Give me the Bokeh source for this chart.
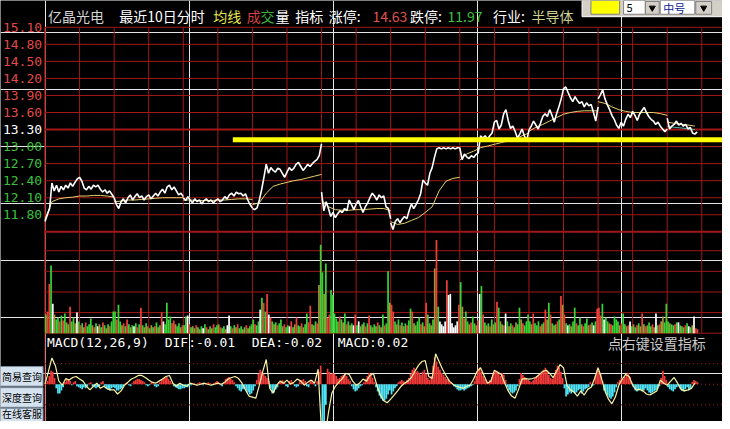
from bokeh.plotting import figure
from bokeh.models import Range1d
from bokeh.core.properties import value
from bokeh.embed import file_html
from bokeh.resources import INLINE

# ------------------------------------------------------------------ data
stock_name = "亿晶光电"
industry = "半导体"
prev_close = 13.30
limit_up = 14.63
limit_down = 11.97
price_ticks = [15.10, 14.80, 14.50, 14.20, 13.90, 13.60, 13.30, 13.00, 12.70, 12.40, 12.10, 11.80]
price_floor = 11.50
vol_ticks = [21, 42, 63, 84]
macd_ticks = [40, 0, -40]          # x0.001
support_level = 13.12              # hand-drawn yellow line
support_start = 652                # minute index where it starts
macd_labels = ["MACD(12,26,9)", "DIF:-0.01", "DEA:-0.02", "MACD:0.02"]

DAY_MIN = 240
PRICE_STEP = 8
AVG_STEP = 24
VOL_STEP = 6
DIF_STEP = 12

price_d0 = [11.68, 11.80, 11.91, 12.36, 12.22, 12.32, 12.20, 12.30, 12.24, 12.32, 12.27, 12.36, 12.30, 12.37, 12.43, 12.46,
            12.39, 12.27, 12.24, 12.30, 12.25, 12.32, 12.29, 12.32, 12.25, 12.20, 12.24, 12.18, 12.22, 12.16, 12.10]
price_d1 = [12.10, 11.98, 11.91, 12.03, 12.08, 12.01, 12.10, 12.15, 12.06, 12.12, 12.17, 12.10, 12.13, 12.06, 12.12, 12.15,
            12.08, 12.13, 12.18, 12.13, 12.20, 12.25, 12.18, 12.29, 12.32, 12.24, 12.29, 12.22, 12.15, 12.18, 12.12]
price_d2 = [12.10, 12.05, 12.12, 12.06, 12.01, 12.08, 12.03, 12.06, 11.99, 12.05, 12.08, 12.03, 12.06, 12.01, 12.05, 12.08,
            12.03, 12.06, 12.12, 12.08, 12.15, 12.18, 12.13, 12.20, 12.17, 12.18, 12.13, 12.17, 12.06, 11.98, 11.92]
price_d3 = [11.91, 11.89, 11.92, 12.06, 12.24, 12.46, 12.69, 12.53, 12.63, 12.58, 12.55, 12.62, 12.60, 12.53, 12.46, 12.55,
            12.63, 12.58, 12.62, 12.69, 12.72, 12.65, 12.58, 12.63, 12.69, 12.65, 12.70, 12.74, 12.77, 12.84, 13.05]
price_d4 = [12.20, 11.87, 12.03, 11.91, 11.77, 11.84, 11.75, 11.82, 11.87, 11.84, 11.91, 11.87, 12.06, 11.98, 11.89, 11.99,
            12.05, 11.94, 11.84, 11.94, 12.01, 12.10, 12.18, 12.13, 12.06, 12.15, 12.10, 12.13, 11.94, 11.91, 11.73]
price_d5 = [11.66, 11.54, 11.68, 11.73, 11.66, 11.72, 11.77, 11.73, 11.87, 11.99, 11.91, 11.98, 12.06, 12.17, 12.41, 12.36,
            12.32, 12.53, 12.63, 12.81, 12.96, 12.98, 12.96, 12.98, 12.96, 12.98, 12.96, 12.98, 12.96, 12.98, 12.98]
price_d6 = [12.98, 12.77, 12.87, 12.82, 12.79, 12.84, 12.81, 12.86, 12.89, 13.19, 13.15, 13.19, 13.13, 13.19, 13.24, 13.43,
            13.46, 13.31, 13.38, 13.57, 13.65, 13.46, 13.32, 13.36, 13.27, 13.15, 13.22, 13.31, 13.19, 13.10, 13.29]
price_d7 = [13.29, 13.36, 13.45, 13.38, 13.31, 13.41, 13.53, 13.58, 13.53, 13.65, 13.55, 13.43, 13.58, 13.70, 13.84, 14.02,
            14.05, 13.95, 13.86, 13.79, 13.88, 13.81, 13.76, 13.79, 13.70, 13.77, 13.72, 13.74, 13.60, 13.45, 13.70]
price_d8 = [13.84, 13.91, 14.00, 13.84, 13.74, 13.65, 13.55, 13.48, 13.38, 13.32, 13.43, 13.36, 13.48, 13.57, 13.51, 13.62,
            13.55, 13.46, 13.57, 13.63, 13.69, 13.60, 13.53, 13.48, 13.45, 13.39, 13.43, 13.36, 13.31, 13.26, 13.31]
price_d9 = [13.50, 13.31, 13.36, 13.39, 13.45, 13.38, 13.41, 13.36, 13.39, 13.31, 13.34, 13.24, 13.22, 13.26]
price_days = [price_d0, price_d1, price_d2, price_d3, price_d4, price_d5, price_d6, price_d7, price_d8, price_d9]

avg_d0 = [11.72, 12.03, 12.08, 12.10, 12.11, 12.13, 12.13, 12.14, 12.14, 12.13, 12.11]
avg_d1 = [12.03, 12.04, 12.06, 12.06, 12.07, 12.08, 12.09, 12.10, 12.10, 12.10, 12.10]
avg_d2 = [12.06, 12.06, 12.05, 12.05, 12.05, 12.06, 12.06, 12.07, 12.08, 12.08, 12.07]
avg_d3 = [11.98, 12.01, 12.18, 12.30, 12.34, 12.37, 12.40, 12.42, 12.45, 12.48, 12.51]
avg_d4 = [12.06, 11.94, 11.89, 11.88, 11.88, 11.89, 11.89, 11.90, 11.91, 11.91, 11.87]
avg_d5 = [11.68, 11.63, 11.65, 11.70, 11.75, 11.84, 11.94, 12.22, 12.39, 12.44, 12.46]
avg_d6 = [12.76, 12.87, 12.92, 12.98, 13.01, 13.04, 13.07, 13.10, 13.13, 13.19, 13.24]
avg_d7 = [13.27, 13.34, 13.39, 13.45, 13.51, 13.57, 13.60, 13.62, 13.63, 13.63, 13.63]
avg_d8 = [13.79, 13.76, 13.70, 13.65, 13.62, 13.60, 13.60, 13.60, 13.60, 13.58, 13.55]
avg_d9 = [13.43, 13.41, 13.39, 13.38, 13.36]
avg_days = [avg_d0, avg_d1, avg_d2, avg_d3, avg_d4, avg_d5, avg_d6, avg_d7, avg_d8, avg_d9]
ma_d9 = [13.36, 13.34, 13.33, 13.31, 13.30]

vol_d0 = [19, 22, 50, 69, 30, 19, 14, 16, 12, 18, 13, 20, 11, 9, 27, 12, 16, 10, 21, 12,
          8, 10, 6, 11, 7, 9, 15, 8, 6, 10, 7, 9, 6, 11, 8, 5, 9, 7, 12, 22]
vol_d1 = [22, 14, 29, 12, 8, 10, 7, 14, 9, 6, 8, 7, 10, 6, 9, 26, 8, 6, 10, 7,
          5, 8, 6, 7, 11, 6, 8, 21, 12, 9, 31, 14, 17, 10, 13, 9, 7, 10, 6, 8]
vol_d2 = [8, 17, 18, 9, 6, 7, 5, 8, 6, 4, 7, 5, 9, 6, 4, 7, 5, 9, 6, 8,
          9, 6, 5, 7, 4, 8, 18, 7, 5, 8, 6, 9, 5, 7, 4, 6, 8, 5, 7, 9]
vol_d3 = [14, 9, 8, 12, 24, 36, 31, 22, 40, 19, 16, 12, 9, 11, 8, 10, 14, 7, 9, 6,
          8, 7, 12, 6, 9, 16, 8, 7, 10, 6, 9, 20, 11, 28, 9, 8, 12, 10, 49, 90]
vol_d4 = [62, 40, 71, 16, 19, 44, 39, 20, 15, 12, 17, 14, 11, 20, 9, 12, 8, 10, 8, 19,
          8, 12, 7, 9, 11, 7, 10, 18, 8, 6, 9, 7, 11, 8, 6, 19, 8, 10, 63, 31]
vol_d5 = [29, 22, 12, 9, 14, 8, 11, 7, 10, 8, 13, 25, 22, 10, 8, 12, 16, 9, 11, 7,
          31, 19, 10, 8, 14, 66, 95, 27, 12, 9, 7, 12, 54, 39, 40, 10, 6, 8, 12, 29]
vol_d6 = [52, 27, 15, 22, 12, 9, 11, 17, 10, 8, 13, 40, 48, 19, 11, 8, 10, 7, 14, 9,
          11, 32, 26, 12, 9, 8, 20, 12, 7, 10, 8, 6, 11, 9, 26, 14, 10, 8, 12, 19]
vol_d7 = [12, 9, 20, 10, 8, 12, 7, 9, 11, 24, 14, 31, 19, 10, 8, 9, 12, 14, 38, 29,
          19, 10, 8, 9, 7, 12, 26, 10, 8, 16, 9, 7, 10, 15, 8, 9, 11, 8, 12, 25]
vol_d8 = [26, 18, 30, 14, 16, 12, 10, 9, 8, 17, 14, 12, 8, 10, 20, 9, 7, 8, 12, 7,
          9, 6, 8, 10, 7, 20, 9, 7, 8, 11, 7, 9, 6, 20, 8, 9, 12, 17, 11, 30]
vol_d9 = [12, 10, 9, 8, 9, 11, 11, 8, 7, 6, 8, 10, 7, 6, 8, 17, 5, 4]
vol_days = [vol_d0, vol_d1, vol_d2, vol_d3, vol_d4, vol_d5, vol_d6, vol_d7, vol_d8, vol_d9]

# bar colour codes: r = up, g = down, w = flat, o = mixed
volc_d0 = "grrgwoggrg" "rgogrggowg" "rgorgggorg" "wogrgogrgg"
volc_d1 = "grggorgrgo" "gwgrgrgogr" "gogrgogrwg" "gggrroggor"
volc_d2 = "ggwrgogrgo" "gwgrgogrgg" "orggowwgrg" "orggogrgog"
volc_d3 = "grggwgrgrw" "rgogrggorg" "gwrgorggro" "ggrrgogrog"
volc_d4 = "gogrrggggg" "rgogrgogwr" "gwgogrgrgo" "ggrgogrggo"
volc_d5 = "rrgogrgogr" "ggrgoggrgo" "rggogorgww" "wwrwwwwwwr"
volc_d6 = "gorggorggo" "rwgrgogrgo" "grgogrwgog" "rgoggorggg"
volc_d7 = "gorgggrogr" "ogrgogrgro" "rgwgoggrgg" "orggorgwgr"
volc_d8 = "rrgwggorgg" "ggorggorwg" "ogrgorgrog" "growgroogg"
volc_d9 = "goggrgwgogrgwgowrr"
volc_days = [volc_d0, volc_d1, volc_d2, volc_d3, volc_d4, volc_d5, volc_d6, volc_d7, volc_d8, volc_d9]

# MACD histogram (x0.001), one bar per 6 minutes
macd_d0 = [2, 6, 16, 26, 24, 12, -8, -18, -18, -12, -6, 4, 10, 8, 6, -2, 4, 6, -4, -6,
           -8, -10, -6, -8, -4, 2, 4, -4, -6, -8, -6, -4, 4, 6, -4, -8, -10, -12, -8, -6]
macd_d1 = [-8, -12, -12, -10, -8, -4, 2, 4, -2, -4, 2, 6, 8, 10, 10, 8, 6, 4, -2, -4,
           -2, 4, 2, -4, -6, -4, 4, 8, 10, 12, 14, 10, 6, 2, -4, -6, -8, -10, -10, -8]
macd_d2 = [-8, -6, -6, -4, -2, 2, 2, -2, 2, 4, 2, -2, 2, 2, 4, 2, -2, 2, 4, 6,
           4, -2, -4, 4, 10, 12, 14, 10, 8, 4, -4, -8, -12, -14, -10, -8, -12, -16, -20, -18]
macd_d3 = [-12, -4, 8, 20, 28, 24, 20, 16, 12, 6, -8, -18, -16, -10, -6, 4, 6, 8, 4, -4,
           -6, 6, 8, 4, -4, -6, -4, 6, 8, 10, 6, -4, -6, 6, 8, 4, -4, 6, 24, 36]
macd_d4 = [-90, -90, -40, 30, 24, 20, 22, 20, 16, 10, 12, 16, 18, 20, 16, 10, 6, -4, -10, -14,
           -12, -8, -4, -2, 4, 10, 16, 22, 20, 12, 4, -6, -14, -22, -28, -32, -32, -28, -20, -12]
macd_d5 = [-20, -14, -8, -4, 4, 6, 8, 6, 4, 8, 12, 20, 28, 32, 24, 26, 22, 18, 24, 28,
           20, 12, 8, 16, 36, 52, 44, 34, 28, 22, 18, 14, 10, 8, 4, 2, -4, -6, -10, -12]
macd_d6 = [-12, -10, -12, -10, -8, -6, -4, -2, 6, 16, 28, 32, 24, 16, 10, 6, 4, 8, 14, 20,
           26, 24, 20, 16, 22, 18, 8, -6, -12, -16, -18, -16, -12, -4, 10, 22, 18, 14, 10, 8]
macd_d7 = [6, 4, 8, 12, 16, 18, 20, 24, 28, 32, 26, 18, 12, 10, 16, 28, 36, 32, 24, 12,
           -8, -24, -20, -16, -18, -14, -18, -16, -12, -10, -18, -14, -10, -8, -6, 4, -4, -2, 16, 28]
macd_d8 = [26, 20, 6, -12, -18, -22, -26, -28, -24, -16, -6, 4, 8, 12, 10, 14, 18, 22, 14, 4,
           -6, -12, -14, -12, -10, -14, -12, -8, -12, -16, -18, -16, -14, -12, -8, -4, 12, 26, 16, 8]
macd_d9 = [-6, -10, -12, -14, -10, -6, -4, -8, -12, -14, -10, -6, -12, -8, 4, 8, 6, 4]
macd_days = [macd_d0, macd_d1, macd_d2, macd_d3, macd_d4, macd_d5, macd_d6, macd_d7, macd_d8, macd_d9]

# DIF line (x0.001), one point per 12 minutes
dif_d0 = [0, 25, 51, 36, 6, -2, 11, 8, 13, 15, 10, 6, -4, -11, -4, 2, -8, -4, -9, -11]
dif_d1 = [-11, -19, -13, -2, 4, 10, 13, 17, 17, 13, 8, 4, 2, 6, 10, 15, 17, 2, -4, 2]
dif_d2 = [-2, -4, 2, 0, -2, 0, 2, 0, -2, 0, 2, 0, 4, 10, 13, 15, 11, 2, -11, -23]
dif_d3 = [-25, -27, -2, 25, 48, -8, -17, -2, 6, 2, 8, 0, 4, 10, 6, -2, 4, 8, 2, 29]
dif_d4 = [-93, -103, -55, -17, -4, 4, 11, 21, 19, 6, -2, 2, 10, 6, 17, 21, -2, -21, -32, -36]
dif_d5 = [-29, -21, -13, -4, 2, 6, 13, 25, 36, 44, 46, 15, 11, 59, 44, 29, 17, 6, 0, -4]
dif_d6 = [-6, -8, -4, -2, 10, 25, 32, 17, 2, 6, 27, 23, 19, 2, -13, -23, -27, -10, 10, 11]
dif_d7 = [10, 11, 13, 19, 25, 27, 21, 13, 25, 38, 32, -2, -11, -15, -23, -13, -21, -10, -6, 11]
dif_d8 = [32, 11, -13, -29, -38, -25, -2, 10, 19, 15, -2, -11, -10, -13, -19, -21, -17, -13, 8, 2]
dif_d9 = [-2, 6, 13, 2, -10, -13, -11, -8, 2]
dif_days = [dif_d0, dif_d1, dif_d2, dif_d3, dif_d4, dif_d5, dif_d6, dif_d7, dif_d8, dif_d9]

# ------------------------------------------------------------------ layout (reference-pixel frame)
W, H = 722, 421
REF_W, REF_H = 730.0, 429.0
CHART_X0 = 45.0
PX_PER_MIN = 699.0 / 2400.0
P_TOP_Y = 27.3
P_PX = 57.89            # px per 1.00 of price
VOL_BASE = 339.0
MACD_ZERO = 391.0
MACD_PX = 21.0 / 40.0


def minute_at(xr):
    return (xr - CHART_X0) / PX_PER_MIN


def price_at(yr):
    return price_ticks[0] - (yr - P_TOP_Y) / P_PX


GRID = "#A01818"
COL = {"r": "#EE4038", "g": "#36D236", "w": "#FFFFFF", "o": "#A89434"}
CJK = value("Noto Sans CJK SC")
MONO = value("DejaVu Sans Mono")

p = figure(width=W, height=H,
           x_range=Range1d(minute_at(0), minute_at(REF_W)),
           y_range=Range1d(price_at(REF_H), price_at(0)),
           output_backend="svg", toolbar_location=None,
           x_axis_location=None, y_axis_location=None,
           min_border=0, min_border_left=0, min_border_right=0,
           min_border_top=0, min_border_bottom=0,
           background_fill_color="#000000", border_fill_color="#000000",
           outline_line_color=None)
p.title.visible = False
p.extra_x_ranges = {"rx": Range1d(0, REF_W)}
p.extra_y_ranges = {"ry": Range1d(REF_H, 0),
                    "vol": Range1d(VOL_BASE - REF_H, VOL_BASE),
                    "macd": Range1d((MACD_ZERO - REF_H) / MACD_PX, MACD_ZERO / MACD_PX)}
x_end = minute_at(REF_W)

# ---- grid
vx = [k * DAY_MIN / 2 for k in range(21)]
p.segment(x0=vx, x1=vx, y0=[P_TOP_Y] * len(vx), y1=[VOL_BASE] * len(vx),
          y_range_name="ry", line_color=GRID, line_width=1)
p.segment(x0=[0], x1=[0], y0=[P_TOP_Y], y1=[REF_H], y_range_name="ry", line_color=GRID, line_width=1)
thin = [t for t in price_ticks if abs(t - prev_close) > 1e-9]
p.segment(x0=[0] * len(thin), x1=[x_end] * len(thin), y0=thin, y1=thin, line_color=GRID, line_width=1)
p.segment(x0=[0, 0], x1=[x_end, x_end], y0=[prev_close, price_floor], y1=[prev_close, price_floor],
          line_color=GRID, line_width=2)
vt = vol_ticks + [0]
p.segment(x0=[0] * len(vt), x1=[x_end] * len(vt), y0=vt, y1=vt, y_range_name="vol",
          line_color=GRID, line_width=1)
p.segment(x0=[0] * len(macd_ticks), x1=[x_end] * len(macd_ticks), y0=macd_ticks, y1=macd_ticks,
          y_range_name="macd", line_color=GRID, line_width=1, line_dash="1 3")

# ---- price axis labels
lab_col = ["#E04A48" if t > prev_close + 1e-9 else ("#FFFFFF" if abs(t - prev_close) < 1e-9 else "#3CC03C")
           for t in price_ticks]
p.text(x=[42] * len(price_ticks), y=price_ticks, text=[f"{t:.2f}" for t in price_ticks],
       text_color=lab_col, x_range_name="rx", text_align="right", text_baseline="middle",
       text_font=MONO, text_font_size="13px")

# ---- volume bars
bx, bt, bc = [], [], []
for d, (vals, cols) in enumerate(zip(vol_days, volc_days)):
    for j, (v, c) in enumerate(zip(vals, cols)):
        bx.append(d * DAY_MIN + j * VOL_STEP + VOL_STEP / 2)
        bt.append(v)
        bc.append(COL[c])
p.vbar(x=bx, width=VOL_STEP, top=bt, bottom=0, fill_color=bc, line_color=None, y_range_name="vol")

# ---- MACD histogram + DIF
mx, mt, mc = [], [], []
for d, vals in enumerate(macd_days):
    for j, v in enumerate(vals):
        mx.append(d * DAY_MIN + j * VOL_STEP + VOL_STEP / 2)
        mt.append(v)
        mc.append("#F03A3A" if v > 0 else "#4FE3F5")
p.vbar(x=mx, width=VOL_STEP, top=mt, bottom=0, fill_color=mc, line_color=None, y_range_name="macd")
dx, dy = [], []
for d, vals in enumerate(dif_days):
    for k, v in enumerate(vals):
        dx.append(d * DAY_MIN + k * DIF_STEP)
        dy.append(v)
p.line(dx, dy, y_range_name="macd", line_color="#F8F4A0", line_width=1.2)

# ---- price + average lines
p.multi_line([[d * DAY_MIN + k * AVG_STEP for k in range(len(a))] for d, a in enumerate(avg_days)],
             avg_days, line_color="#E8CF6A", line_width=1)
p.line([9 * DAY_MIN + k * AVG_STEP for k in range(len(ma_d9))], ma_d9, line_color="#3FB5A5", line_width=1)
p.multi_line([[d * DAY_MIN + k * PRICE_STEP for k in range(len(a))] for d, a in enumerate(price_days)],
             price_days, line_color="#FFFFFF", line_width=1.6)

# ---- hand-drawn support line
p.segment(x0=[support_start], x1=[x_end], y0=[support_level], y1=[support_level],
          line_color="#FFFF00", line_width=5)

# ---- header row
hx = [48, 120, 215, 249, 263, 278, 298, 332, 376, 414, 452, 498, 537]
ht = [stock_name, "最近10日分时", "均线", "成", "交", "量", "指标", "涨停:", f"{limit_up:.2f}",
      "跌停:", f"{limit_down:.2f}", "行业:", industry]
hc = ["#D4D4D4", "#FFFFFF", "#E6E64A", "#D24040", "#3CB43C", "#FFFFFF", "#FFFFFF", "#FFFFFF",
      "#E05050", "#FFFFFF", "#40C040", "#FFFFFF", "#CFCF8E"]
p.text(x=hx, y=[16] * len(hx), text=ht, text_color=hc, x_range_name="rx", y_range_name="ry",
       text_baseline="middle", text_font=CJK, text_font_size="14px")

# ---- MACD title row
p.text(x=[47, 166, 254, 341], y=[349] * 4, text=macd_labels, text_color="#FFFFFF",
       x_range_name="rx", y_range_name="ry", text_baseline="middle", text_font=MONO, text_font_size="13px")
p.text(x=[614], y=[349], text=["点右键设置指标"], text_color="#CACACA", x_range_name="rx", y_range_name="ry",
       text_baseline="middle", text_font=CJK, text_font_size="14px")

# ---- top-right toolbar widget
p.quad(left=[588], right=[730], top=[0], bottom=[16.5], fill_color="#D4D0C8", line_color="#FFFFFF",
       line_width=1, x_range_name="rx", y_range_name="ry")
p.quad(left=[597, 630, 667], right=[626, 652, 702], top=[0, 0, 0], bottom=[14, 14, 14],
       fill_color=["#FFFF00", "#FFFFFF", "#FFFFFF"], line_color="#808080", line_width=1,
       x_range_name="rx", y_range_name="ry")
p.quad(left=[652, 703], right=[666, 719], top=[1, 1], bottom=[14, 14], fill_color="#D4D0C8",
       line_color="#808080", line_width=1, x_range_name="rx", y_range_name="ry")
p.scatter(x=[659, 711], y=[7.5, 7.5], marker="inverted_triangle", size=6, color="#000000",
          x_range_name="rx", y_range_name="ry")
p.text(x=[633, 670], y=[8, 8], text=["5", "中号"], text_color=["#000000", "#0A1E8C"],
       x_range_name="rx", y_range_name="ry", text_baseline="middle", text_font=CJK, text_font_size="11px")

# ---- bottom-left buttons
p.quad(left=[-2, -2, -2], right=[43, 43, 43], top=[373, 394.5, 415.5], bottom=[393, 414.5, 440],
       fill_color="#D5E2EF", line_color="#7F8FA0", line_width=1, x_range_name="rx", y_range_name="ry")
p.text(x=[1.5, 1.5, 1.5], y=[383, 404.5, 420.5], text=["简易查询", "深度查询", "在线客服"], text_color="#000000",
       x_range_name="rx", y_range_name="ry", text_align="left", text_baseline="middle",
       text_font=CJK, text_font_size="10px")

open("out.html", "w").write(file_html(p, INLINE))
